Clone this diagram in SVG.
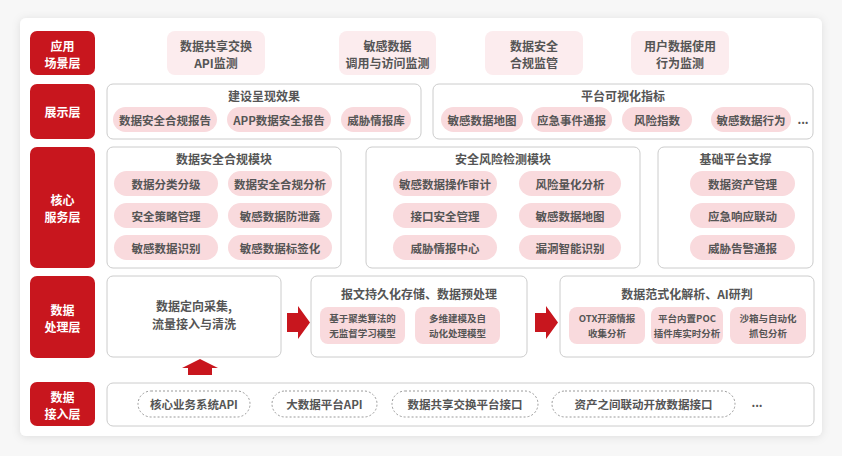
<svg xmlns="http://www.w3.org/2000/svg" width="842" height="456" viewBox="0 0 842 456">
<defs>
<filter id="sh" x="-5%" y="-5%" width="110%" height="110%"><feDropShadow dx="0" dy="1" stdDeviation="4" flood-color="#000" flood-opacity="0.1"/></filter>
<style>
text{font-family:"Noto Sans CJK SC","Liberation Sans",sans-serif;text-anchor:middle;dominant-baseline:central}
.lab rect{fill:#c8161e}
.lab text{fill:#fff;font-size:12px;font-weight:bold}
.app rect{fill:#fcecee}
.app text{fill:#555;font-size:12px;font-weight:bold}
.box{fill:#fff;stroke:#ccc;stroke-width:1}
.t{fill:#555;font-size:12px;font-weight:bold}
.p{fill:#f9dadd}
.pt{fill:#555;font-size:11.5px;font-weight:bold}
.st{fill:#555;font-size:9.5px;font-weight:bold}
.d{fill:#fff;stroke:#999;stroke-dasharray:2 2}
.ar{fill:#c8161e}
</style>
</defs>
<rect width="842" height="456" fill="#f7f7f7"/>
<rect x="20" y="18" width="802" height="418" rx="6" fill="#fff" filter="url(#sh)"/>
<g id="labels" class="lab">
<rect x="30" y="31" width="65" height="44" rx="7"/><text x="62.5" y="45">应用</text><text x="62.5" y="62">场景层</text>
<rect x="30" y="84" width="65" height="55" rx="7"/><text x="62.5" y="111">展示层</text>
<rect x="30" y="147" width="65" height="121" rx="7"/><text x="62.5" y="199">核心</text><text x="62.5" y="216">服务层</text>
<rect x="30" y="276" width="65" height="82" rx="7"/><text x="62.5" y="309">数据</text><text x="62.5" y="326">处理层</text>
<rect x="30" y="382" width="65" height="44" rx="7"/><text x="62.5" y="396">数据</text><text x="62.5" y="413">接入层</text>
</g>
<g id="app" class="app">
<rect x="167" y="31" width="98" height="44" rx="8"/><text x="216" y="45">数据共享交换</text><text x="216" y="62">API监测</text>
<rect x="339" y="31" width="97" height="44" rx="8"/><text x="387.5" y="45">敏感数据</text><text x="387.5" y="62">调用与访问监测</text>
<rect x="485" y="31" width="98" height="44" rx="8"/><text x="534" y="45">数据安全</text><text x="534" y="62">合规监管</text>
<rect x="631" y="31" width="98" height="44" rx="8"/><text x="680" y="45">用户数据使用</text><text x="680" y="62">行为监测</text>
</g>
<g id="display1">
<rect class="box" x="107" y="84" width="314" height="55" rx="6"/><text class="t" x="264" y="95">建设呈现效果</text>
<rect class="p" x="113" y="107" width="104" height="25" rx="12.5"/><text class="pt" x="165" y="119.5">数据安全合规报告</text>
<rect class="p" x="227" y="107" width="104" height="25" rx="12.5"/><text class="pt" x="279" y="119.5">APP数据安全报告</text>
<rect class="p" x="341" y="107" width="70" height="25" rx="12.5"/><text class="pt" x="376" y="119.5">威胁情报库</text>
</g>
<g id="display2">
<rect class="box" x="433" y="84" width="380" height="55" rx="6"/><text class="t" x="623" y="95">平台可视化指标</text>
<rect class="p" x="441" y="107" width="82" height="25" rx="12.5"/><text class="pt" x="482" y="119.5">敏感数据地图</text>
<rect class="p" x="531" y="107" width="81" height="25" rx="12.5"/><text class="pt" x="571.5" y="119.5">应急事件通报</text>
<rect class="p" x="622" y="107" width="70" height="25" rx="12.5"/><text class="pt" x="657" y="119.5">风险指数</text>
<rect class="p" x="711" y="107" width="80" height="25" rx="12.5"/><text class="pt" x="751" y="119.5">敏感数据行为</text>
<text class="pt" x="803" y="119">...</text>
</g>
<g id="core1">
<rect class="box" x="107" y="147" width="234" height="121" rx="6"/><text class="t" x="224" y="158">数据安全合规模块</text>
<rect class="p" x="114" y="171" width="104" height="25" rx="12.5"/><text class="pt" x="166" y="183.5">数据分类分级</text>
<rect class="p" x="228" y="171" width="104" height="25" rx="12.5"/><text class="pt" x="280" y="183.5">数据安全合规分析</text>
<rect class="p" x="114" y="203" width="104" height="25" rx="12.5"/><text class="pt" x="166" y="215.5">安全策略管理</text>
<rect class="p" x="228" y="203" width="104" height="25" rx="12.5"/><text class="pt" x="280" y="215.5">敏感数据防泄露</text>
<rect class="p" x="114" y="235" width="104" height="25" rx="12.5"/><text class="pt" x="166" y="247.5">敏感数据识别</text>
<rect class="p" x="228" y="235" width="104" height="25" rx="12.5"/><text class="pt" x="280" y="247.5">敏感数据标签化</text>
</g>
<g id="core2">
<rect class="box" x="366" y="147" width="274" height="121" rx="6"/><text class="t" x="503" y="158">安全风险检测模块</text>
<rect class="p" x="393" y="171" width="104" height="25" rx="12.5"/><text class="pt" x="445" y="183.5">敏感数据操作审计</text>
<rect class="p" x="519" y="171" width="102" height="25" rx="12.5"/><text class="pt" x="570" y="183.5">风险量化分析</text>
<rect class="p" x="393" y="203" width="104" height="25" rx="12.5"/><text class="pt" x="445" y="215.5">接口安全管理</text>
<rect class="p" x="519" y="203" width="102" height="25" rx="12.5"/><text class="pt" x="570" y="215.5">敏感数据地图</text>
<rect class="p" x="393" y="235" width="104" height="25" rx="12.5"/><text class="pt" x="445" y="247.5">威胁情报中心</text>
<rect class="p" x="519" y="235" width="102" height="25" rx="12.5"/><text class="pt" x="570" y="247.5">漏洞智能识别</text>
</g>
<g id="core3">
<rect class="box" x="658" y="147" width="155" height="121" rx="6"/><text class="t" x="735.5" y="158">基础平台支撑</text>
<rect class="p" x="690" y="171" width="105" height="25" rx="12.5"/><text class="pt" x="742.5" y="183.5">数据资产管理</text>
<rect class="p" x="690" y="203" width="105" height="25" rx="12.5"/><text class="pt" x="742.5" y="215.5">应急响应联动</text>
<rect class="p" x="690" y="235" width="105" height="25" rx="12.5"/><text class="pt" x="742.5" y="247.5">威胁告警通报</text>
</g>
<g id="proc1">
<rect class="box" x="107" y="276" width="174" height="81" rx="6"/>
<text class="t" x="194" y="305">数据定向采集,</text><text class="t" x="194" y="323">流量接入与清洗</text>
</g>
<g id="proc2">
<rect class="box" x="311" y="276" width="216" height="81" rx="6"/><text class="t" x="419" y="293">报文持久化存储、数据预处理</text>
<rect class="p" x="320" y="307" width="85" height="37" rx="8"/><text class="st" x="362.5" y="318">基于聚类算法的</text><text class="st" x="362.5" y="333">无监督学习模型</text>
<rect class="p" x="415" y="307" width="85" height="37" rx="8"/><text class="st" x="457.5" y="318">多维建模及自</text><text class="st" x="457.5" y="333">动化处理模型</text>
</g>
<g id="proc3">
<rect class="box" x="560" y="276" width="254" height="81" rx="6"/><text class="t" x="687" y="293">数据范式化解析、AI研判</text>
<rect class="p" x="569" y="307" width="76" height="37" rx="8"/><text class="st" x="607" y="318">OTX开源情报</text><text class="st" x="607" y="333">收集分析</text>
<rect class="p" x="651" y="307" width="72" height="37" rx="8"/><text class="st" x="687" y="318">平台内置POC</text><text class="st" x="687" y="333">插件库实时分析</text>
<rect class="p" x="730" y="307" width="76" height="37" rx="8"/><text class="st" x="768" y="318">沙箱与自动化</text><text class="st" x="768" y="333">抓包分析</text>
</g>
<g id="access">
<rect class="box" x="107" y="383" width="707" height="43" rx="6"/>
<rect class="d" x="138" y="391" width="112" height="26" rx="13"/><text class="pt" x="194" y="404">核心业务系统API</text>
<rect class="d" x="272" y="391" width="105" height="26" rx="13"/><text class="pt" x="324.5" y="404">大数据平台API</text>
<rect class="d" x="392" y="391" width="146" height="26" rx="13"/><text class="pt" x="465" y="404">数据共享交换平台接口</text>
<rect class="d" x="552" y="391" width="183" height="26" rx="13"/><text class="pt" x="643.5" y="404">资产之间联动开放数据接口</text>
<text class="pt" x="757" y="402">...</text>
</g>
<g id="connectors">
<polygon class="ar" points="287,313 298,313 298,306 310,322.5 298,339 298,332 287,332"/>
<polygon class="ar" points="535,313 546,313 546,306 558,322.5 546,339 546,332 535,332"/>
<polygon class="ar" points="188,375 188,368 182,368 200,359 218,368 212,368 212,375"/>
</g>
</svg>
